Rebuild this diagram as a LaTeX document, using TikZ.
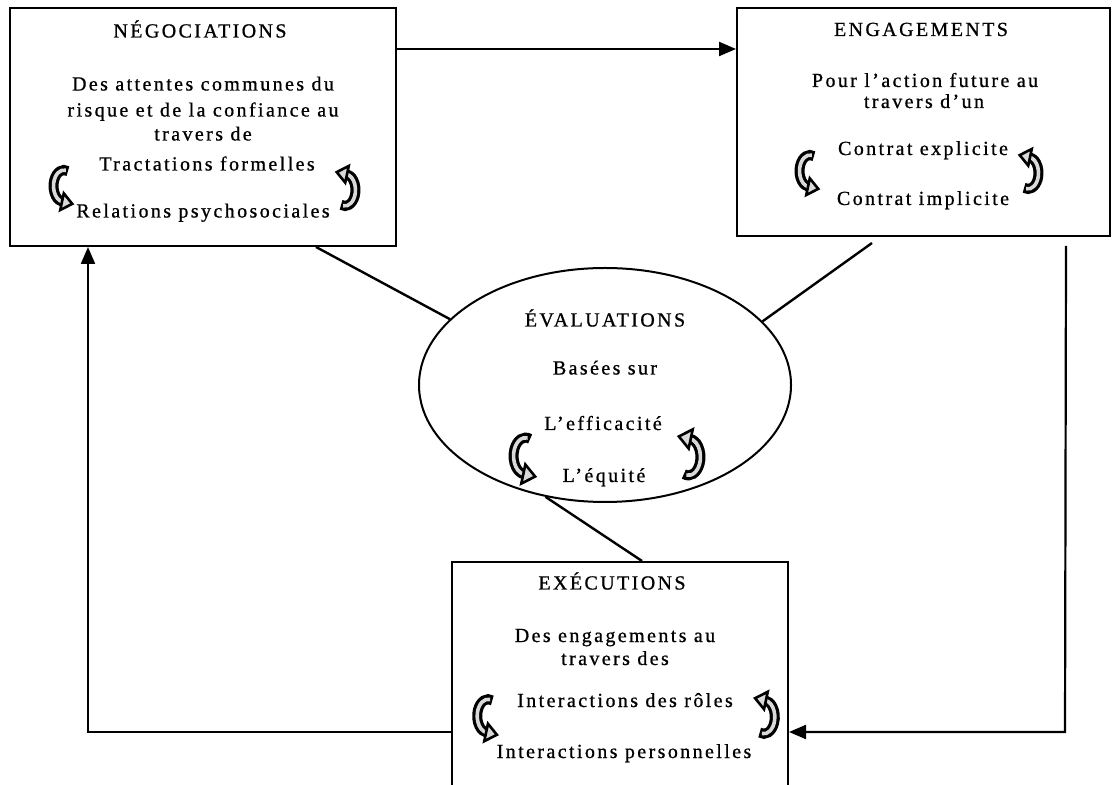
\documentclass[tikz,border=0pt]{standalone}
\usepackage{fontspec}
\setmainfont{Liberation Serif}[LetterSpace=12, FakeBold=0.8]
\usetikzlibrary{arrows.meta,shapes.geometric}

\tikzset{
  % curved block arrow: a hollow C band ending in a head
  curly/.pic={
    \draw[line width=10pt] (4,0) ++(68:10.5 and 16)
      arc[start angle=68, end angle=262, x radius=10.5, y radius=16];
    \draw[line width=3.6pt, gray!30] (4,0) ++(80:10.5 and 16)
      arc[start angle=80, end angle=262, x radius=10.5, y radius=16];
    \filldraw[fill=gray!30, line width=2.6pt, line join=miter,
      shift={(2.5,-15.8)}, rotate=-12]
      (-0.5,8.5) -- (10,0) -- (-0.5,-8.5) -- cycle;
  }
}

\begin{document}
\begin{tikzpicture}[x=1pt, y=1pt,
  box/.style={draw, rectangle, line width=2pt, inner sep=0pt},
  txt/.style={font=\fontsize{20}{24}\selectfont, inner sep=0pt, anchor=base},
  link/.style={line width=2.4pt},
  arr/.style={line width=2.2pt, -{Triangle[length=17pt, width=14pt]}}]

\useasboundingbox (0,0) rectangle (1115,784);
\clip (0,0) rectangle (1115,784);
\fill[white] (0,0) rectangle (1115,784);

% the four blocks
\node[box, minimum width=386pt, minimum height=238pt] (neg) at (203,657) {};
\node[box, minimum width=373pt, minimum height=228pt] (eng) at (923.5,662) {};
\node[box, minimum width=336pt, minimum height=268pt] (exe) at (620,88) {};
\node[draw, ellipse, line width=2pt, inner sep=0pt,
      minimum width=372pt, minimum height=234pt] (eva) at (605,399) {};

% negotiations
\node[txt] (negT) at (200,746.5) {NÉGOCIATIONS};
\node[txt] (neg1) at (203,693.5) {Des attentes communes du};
\node[txt] (neg2) at (203,667.5) {risque et de la confiance au};
\node[txt] (neg3) at (203,643.5) {travers de};
\node[txt] (neg4) at (207,613.5) {Tractations formelles};
\node[txt] (neg5) at (203,566.5) {Relations psychosociales};
\pic at (60,598) {curly};
\pic[rotate=180] at (349,594) {curly};

% commitments
\node[txt] (engT) at (921,748) {ENGAGEMENTS};
\node[txt] (eng1) at (925,697) {Pour l’action future au};
\node[txt] (eng2) at (924,676) {travers d’un};
\node[txt] (eng3) at (923,629) {Contrat explicite};
\node[txt] (eng4) at (923,579) {Contrat implicite};
\pic at (806,613) {curly};
\pic[rotate=180] at (1032,611) {curly};

% evaluations
\node[txt] (evaT) at (605,457.5) {ÉVALUATIONS};
\node[txt] (eva1) at (605,409.5) {Basées sur};
\node[txt] (eva2) at (603,354) {L’efficacité};
\node[txt] (eva3) at (604,302) {L’équité};
\pic[scale=1.15] at (521,328) {curly};
\pic[scale=1.15, rotate=180] at (693,327) {curly};

% executions
\node[txt] (exeT) at (612,194.5) {EXÉCUTIONS};
\node[txt] (exe1) at (615,142) {Des engagements au};
\node[txt] (exe2) at (615,119) {travers des};
\node[txt] (exe3) at (625,77) {Interactions des rôles};
\node[txt] (exe4) at (624,26) {Interactions personnelles};
\pic[scale=1.05] at (484,68) {curly};
\pic[scale=1.05, rotate=180] at (768,67) {curly};

% links to the evaluations
\draw[link] ([xshift=307pt]neg.south west) -- (eva.157.25);
\draw[link] ([xshift=136pt, yshift=-6pt]eng.south west) -- (eva.22.75);
\draw[link] (eva.242) -- ([xshift=191pt]exe.north west);

% the cycle
\coordinate (topy) at (0,735);
\coordinate (rbend) at (1065,52);
\coordinate (lbend) at (88,52);
\draw[arr] (neg.east |- topy) -- (eng.west |- topy);
\draw[arr] ([xshift=-45pt, yshift=-9pt]eng.south east) -- (rbend) -- (exe.east |- rbend);
\draw[arr] (exe.west |- lbend) -- (lbend) -- (neg.south -| lbend);

\end{tikzpicture}
\end{document}
